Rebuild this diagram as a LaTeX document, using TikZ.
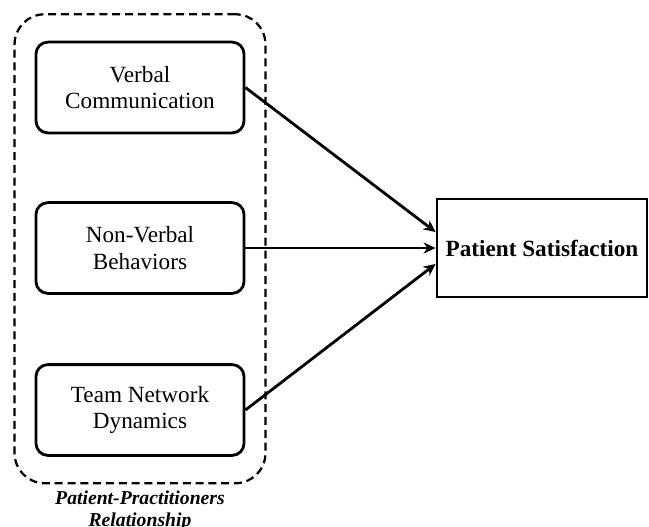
\documentclass[tikz,border=0pt]{standalone}
\usepackage{fontspec}
\setmainfont{Liberation Serif}
\usetikzlibrary{positioning,fit,backgrounds,arrows.meta,calc}
\tikzset{
  factor/.style={draw=black, rounded corners=0.3cm, align=center, line width=2pt,
    minimum width=5.2cm, minimum height=2.27cm, font=\fontsize{16.5}{18.8}\selectfont},
  outcome/.style={draw=black, align=center, line width=2pt,
    minimum width=5.25cm, minimum height=2.45cm, font=\fontsize{16.5}{18.8}\selectfont\bfseries},
  flow/.style={-{Stealth[length=3mm,width=2.8mm]}, line width=2pt},
  grp/.style={draw=black, dash pattern=on 0.2cm off 0.12cm, line width=1.6pt,
    rounded corners=0.75cm, inner xsep=0.5cm, inner ysep=0.66cm},
  grplab/.style={font=\fontsize{14}{15.6}\selectfont\bfseries\itshape, align=center, inner sep=1pt},
}
\begin{document}
\begin{tikzpicture}[x=0.025cm,y=-0.025cm]
    \useasboundingbox (0,0) rectangle (649,526);
    % factors
    \node[factor] (verb) at (140,87.5) {Verbal\\Communication};
    \node[factor] (nonv) at (140,248) {Non-Verbal\\Behaviors};
    \node[factor] (team) at (140,410) {Team Network\\Dynamics};
    % outcome
    \node[outcome] (sat) at (542,248) {Patient Satisfaction};
    \draw[flow] (verb.east) -- ($(sat.west)+(0,-16)$);
    \draw[flow] (nonv.east) -- (sat.west);
    \draw[flow] (team.east) -- ($(sat.west)+(0,16)$);
    % group frame
    \begin{scope}[on background layer]
      \node[grp, fit=(verb)(team)] (rel) {};
    \end{scope}
    \node[grplab, anchor=north] at ($(rel.south)+(0,5)$) {Patient-Practitioners\\Relationship};
  \end{tikzpicture}
\end{document}
